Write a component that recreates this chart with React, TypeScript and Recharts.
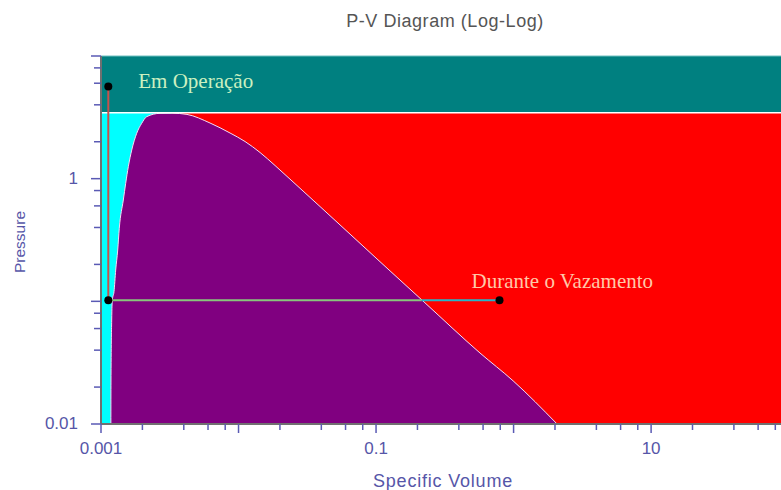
import React from 'react';
import {
  ComposedChart, Area, Line, Scatter, XAxis, YAxis, ReferenceArea, ReferenceLine,
} from 'recharts';

// saturation dome (specific volume, pressure)
const domeV = [
  0.00118, 0.001182, 0.001196, 0.001209, 0.001243, 0.001279, 0.001323, 0.001358, 0.001453,
  0.001512, 0.00158, 0.001673, 0.001818, 0.001977, 0.002149, 0.002686, 0.00328, 0.00422,
  0.006205, 0.008676, 0.01115, 0.01434, 0.01843, 0.02368, 0.0647, 0.1264, 0.2234, 0.57,
  0.9917, 2.072,
];
const domeP = [
  0.01, 0.0216, 0.0704, 0.1024, 0.1197, 0.18, 0.262, 0.394, 0.67,
  0.917, 1.252, 1.712, 2.343, 2.827, 3.2, 3.41, 3.42, 3.34,
  2.843, 2.356, 2.009, 1.634, 1.28, 0.9917, 0.353, 0.177, 0.0988, 0.0379,
  0.0225, 0.01,
];

const critV = 0.00328;
const critP = 3.45;
const vMin = 0.001;
const vMax = 88;
const pMin = 0.01;
const pMax = 10;

// states
const stateV = [0.00113, 0.00113, 0.79];
const stateP = [5.65, 0.102, 0.102];
const stateLabels = ['Em Operação', '', 'Durante o Vazamento'];
const leakCrossV = 0.215;

const xTicks = [0.001, 0.002, 0.004, 0.006, 0.008, 0.01, 0.02, 0.04, 0.06, 0.08, 0.1, 0.2, 0.4, 0.6, 0.8, 1, 2, 4, 6, 8, 10, 20, 40, 60, 80];
const yTicks = [0.01, 0.02, 0.04, 0.06, 0.08, 0.1, 0.2, 0.4, 0.6, 0.8, 1, 2, 4, 6, 8, 10];
const xLabelValues = [0.001, 0.1, 10];
const xLabelTexts = ['0.001', '0.1', '10'];
const yLabelValues = [0.01, 1];
const yLabelTexts = ['0.01', '1'];

const domeData = domeV.map((v, i) => ({ v, p: domeP[i] }));
const stateData = stateV.map((v, i) => ({ v, p: stateP[i], label: stateLabels[i] }));
const compressData = [stateData[0], stateData[1]];
const mixData = [stateData[1], { v: leakCrossV, p: stateP[1] }];
const vaporData = [{ v: leakCrossV, p: stateP[1] }, stateData[2]];

const tickBlue = '#5a5ab4';
const labelBlue = '#5656a8';
const sans = '"Liberation Sans", Arial, sans-serif';
const serif = '"Liberation Serif", "Times New Roman", serif';

const isDecade = (v: number) => Math.abs(Math.log10(v) - Math.round(Math.log10(v))) < 1e-6;

function XTick(props: any) {
  const { x, y, payload } = props;
  const v = payload.value;
  const idx = xLabelValues.findIndex((l) => Math.abs(l - v) < 1e-9);
  return (
    <g>
      <line x1={x} x2={x} y1={y} y2={y + (isDecade(v) ? 9 : 6)} stroke={tickBlue} strokeWidth={1.5} />
      {idx >= 0 && (
        <text x={x} y={y + 30} textAnchor="middle" fontFamily={sans} fontSize={17} fill={labelBlue}>
          {xLabelTexts[idx]}
        </text>
      )}
    </g>
  );
}

function YTick(props: any) {
  const { x, y, payload } = props;
  const v = payload.value;
  const idx = yLabelValues.findIndex((l) => Math.abs(l - v) < 1e-9);
  return (
    <g>
      <line x1={x - (isDecade(v) ? 10 : 7)} x2={x} y1={y} y2={y} stroke={tickBlue} strokeWidth={1.5} />
      {idx >= 0 && (
        <text x={x - 23} y={y + 5} textAnchor="end" fontFamily={sans} fontSize={17} fill={labelBlue}>
          {yLabelTexts[idx]}
        </text>
      )}
    </g>
  );
}

const labelStyle: Record<string, { dx: number; dy: number; fill: string }> = {
  'Em Operação': { dx: 30, dy: 2, fill: '#ccf0c0' },
  'Durante o Vazamento': { dx: -28, dy: -12, fill: '#ffc8a8' },
};

function StateDot(props: any) {
  const { cx, cy, payload } = props;
  const st = labelStyle[payload.label];
  return (
    <g>
      <circle cx={cx} cy={cy} r={4} fill="#000" />
      {st && (
        <text x={cx + st.dx} y={cy + st.dy} fontFamily={serif} fontSize={21} fill={st.fill}>
          {payload.label}
        </text>
      )}
    </g>
  );
}

export default function App() {
  return (
    <div style={{ position: 'absolute', left: 0, top: 0, width: 781, height: 490, overflow: 'hidden', background: '#fff' }}>
      <ComposedChart width={781} height={490} margin={{ top: 56, right: 0, bottom: 0, left: 0 }}>
        <XAxis
          dataKey="v"
          type="number"
          scale="log"
          domain={[vMin, vMax]}
          allowDataOverflow
          ticks={xTicks}
          interval={0}
          height={66}
          tickSize={0}
          tickMargin={0}
          tickLine={false}
          tick={<XTick />}
          axisLine={{ stroke: '#707070', strokeWidth: 2 }}
        />
        <YAxis
          dataKey="p"
          type="number"
          scale="log"
          domain={[pMin, pMax]}
          allowDataOverflow
          ticks={yTicks}
          interval={0}
          width={101}
          tickSize={0}
          tickMargin={0}
          tickLine={false}
          tick={<YTick />}
          axisLine={{ stroke: '#707070', strokeWidth: 2 }}
        />
        <ReferenceArea x1={vMin} x2={vMax} y1={critP} y2={pMax} fill="#008080" fillOpacity={1} stroke="none" zIndex={0} />
        <ReferenceArea x1={vMin} x2={vMax} y1={pMin} y2={critP} fill="#ff0000" fillOpacity={1} stroke="none" zIndex={0} />
        <ReferenceArea x1={vMin} x2={critV} y1={pMin} y2={critP} fill="#00ffff" fillOpacity={1} stroke="none" zIndex={0} />
        <ReferenceLine y={pMax} stroke="#70c0c0" strokeWidth={1} />
        <Area
          data={domeData}
          dataKey="p"
          type="monotone"
          baseValue="dataMin"
          fill="#800080"
          fillOpacity={1}
          stroke="#f4dcf4"
          strokeWidth={1}
          dot={false}
          activeDot={false}
          isAnimationActive={false}
        />
        <ReferenceLine y={critP} stroke="#ffffff" strokeWidth={1.5} />
        <Line data={compressData} dataKey="p" type="linear" stroke="#c8504a" strokeWidth={2} dot={false} activeDot={false} isAnimationActive={false} />
        <Line data={mixData} dataKey="p" type="linear" stroke="#88c47c" strokeWidth={2} dot={false} activeDot={false} isAnimationActive={false} />
        <Line data={vaporData} dataKey="p" type="linear" stroke="#28b4c8" strokeWidth={2} dot={false} activeDot={false} isAnimationActive={false} />
        <Scatter data={stateData} dataKey="p" shape={<StateDot />} isAnimationActive={false} />
        <text x={445} y={27} textAnchor="middle" fontFamily={sans} fontSize={18} letterSpacing={0.55} fill="#555555">
          P-V Diagram (Log-Log)
        </text>
        <text x={443} y={487} textAnchor="middle" fontFamily={sans} fontSize={18} letterSpacing={0.8} fill={labelBlue}>
          Specific Volume
        </text>
        <text x={25} y={242} transform="rotate(-90, 25, 242)" textAnchor="middle" fontFamily={sans} fontSize={15.5} fill={labelBlue}>
          Pressure
        </text>
      </ComposedChart>
    </div>
  );
}
